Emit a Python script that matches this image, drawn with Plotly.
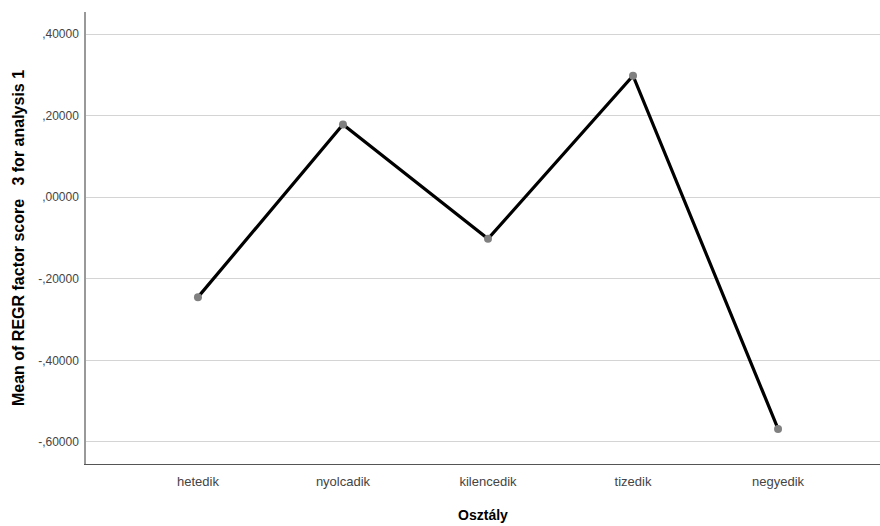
import plotly.graph_objects as go

categories = ["hetedik", "nyolcadik", "kilencedik", "tizedik", "negyedik"]
means = [-0.245, 0.178, -0.102, 0.298, -0.568]
y_tick_vals = [0.4, 0.2, 0.0, -0.2, -0.4, -0.6]
y_tick_text = [",40000", ",20000", ",00000", "-,20000", "-,40000", "-,60000"]

fig = go.Figure()
fig.add_trace(go.Scatter(
    x=list(range(len(categories))), y=means, mode="lines+markers",
    line=dict(color="black", width=3.2),
    marker=dict(color="#808080", size=8),
    showlegend=False, cliponaxis=False,
))

fig.update_layout(
    width=880, height=526,
    margin=dict(l=86, r=0, t=12, b=62),
    plot_bgcolor="white", paper_bgcolor="white",
    font=dict(family="Liberation Sans, Arial, sans-serif", color="#333"),
    xaxis=dict(
        range=[-0.772, 4.703], tickvals=list(range(len(categories))), ticktext=categories,
        showgrid=False, zeroline=False, showline=True, linecolor="#555", linewidth=1.2,
        ticks="", tickfont=dict(size=13, color="#444"), ticklabelstandoff=5,
        title=dict(text="<b>Osztály</b>", font=dict(size=14, color="black"), standoff=22),
    ),
    yaxis=dict(
        range=[-0.654, 0.454], tickvals=y_tick_vals, ticktext=y_tick_text,
        showgrid=True, gridcolor="#d4d4d4", gridwidth=1, zeroline=False,
        showline=True, linecolor="#999", linewidth=1.5, ticks="",
        tickfont=dict(size=12, color="#444"), ticklabelstandoff=3,
        title=dict(text="<b>Mean of REGR factor score   3 for analysis 1</b>",
                   font=dict(size=16, color="black"), standoff=10),
    ),
)

fig.write_html(
    "out.html",
    config={"displayModeBar": False},
    post_script="document.body.style.margin='0';document.body.style.overflow='hidden';",
)
